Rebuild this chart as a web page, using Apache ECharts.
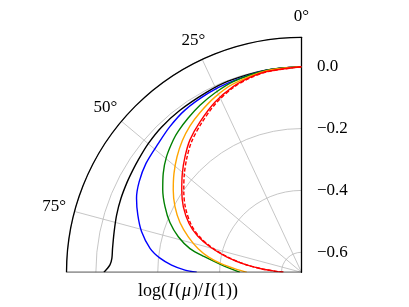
<!DOCTYPE html>
<html><head><meta charset="utf-8">
<script src="https://cdn.jsdelivr.net/npm/echarts@6/dist/echarts.min.js"></script>
<style>html,body{margin:0;padding:0;background:#fff}#c{width:409px;height:307px}</style>
</head><body><div id="c"></div>
<script>
// angle from disk centre (deg) and log(I(mu)/I(1))
const blackAngles = [0,10,21,28,37,44,50,55.5,58.7,62.5,67.7,72.8,77.8,82.8,85.8,87.8,90];
const blackR      = [0,-0.001,-0.003,-0.007,-0.010,-0.013,-0.018,-0.024,-0.027,-0.030,-0.034,-0.039,-0.045,-0.049,-0.050,-0.045,-0.026];
const blueAngles  = [0,10.3,21.1,27.5,35.7,42.1,48,55,60.9,65.8,70.7,75.7,81,84.3,86.8,88.9,90];
const blueR       = [0,-0.002,-0.008,-0.012,-0.019,-0.030,-0.042,-0.051,-0.064,-0.080,-0.104,-0.131,-0.169,-0.205,-0.244,-0.288,-0.326];
const greenAngles = [0,9.8,19.7,25.8,31.3,36.3,41.1,44.1,49.4,54.4,59.3,64.3,69.3,74,78,80.8,84.5,90];
const greenR      = [0,-0.002,-0.010,-0.021,-0.033,-0.046,-0.059,-0.069,-0.090,-0.115,-0.143,-0.175,-0.210,-0.251,-0.296,-0.345,-0.403,-0.466];
const orangeAngles= [0,9.8,19.9,26.3,32.5,37.3,42.2,47.2,52.2,57.3,62.6,67.7,72.7,77.1,80.8,84,86.9,90];
const orangeR     = [0,-0.0035,-0.017,-0.033,-0.053,-0.070,-0.091,-0.116,-0.143,-0.172,-0.204,-0.240,-0.282,-0.322,-0.362,-0.405,-0.448,-0.488];
const redAngles   = [0,9.8,14.8,20.2,26.8,34,40.1,45.2,50.3,55.5,61,66.6,70.7,74.7,78.4,82.1,85.2,87.8,90];
const redR        = [0,-0.006,-0.013,-0.025,-0.047,-0.078,-0.105,-0.134,-0.164,-0.195,-0.228,-0.269,-0.309,-0.361,-0.419,-0.480,-0.537,-0.582,-0.606];
const redDashR    = [0,-0.007,-0.015,-0.028,-0.052,-0.085,-0.113,-0.142,-0.172,-0.203,-0.236,-0.276,-0.315,-0.366,-0.423,-0.482,-0.538,-0.582,-0.606];
const angleTicks  = [0,25,50,75];
const radiusTicks = [-0.6,-0.4,-0.2,0.0];
const R_MIN = -0.6647, R_MAX = 0.095;
const ANG_MIN = 0, ANG_MAX = 90;
const LABEL_R = 0.163; // radius (data units) of the ring on which the angle labels sit

const pairs = (ang, r) => ang.map((a, i) => [r[i], a]);
const fmt = v => (v < -1e-9 ? '\u2212' : '') + Math.abs(v).toFixed(1);
const serif = '"Liberation Serif","DejaVu Serif",serif';
const labelText = {color: '#000', opacity: 1, fontFamily: serif, fontSize: 17};
const gridStyle = {color: '#b8b8b8', width: 0.8};

const chart = echarts.init(document.getElementById('c'), null, {renderer: 'canvas'});
function curve(name, ang, r, color, dashed, z) {
  return {name, type: 'line', coordinateSystem: 'polar', data: pairs(ang, r), showSymbol: false, smooth: 0.3,
    lineStyle: {color, width: 1.4, type: dashed ? [4, 2] : 'solid'}, z: z || 2, animation: false};
}
function labels(name, data, extra) {
  return {name, type: 'scatter', coordinateSystem: 'polar', clip: false, silent: true, data,
    symbolSize: 1, itemStyle: {color: 'rgba(0,0,0,0)', opacity: 1},
    label: Object.assign({show: true}, labelText, extra), z: 6, animation: false};
}
chart.setOption({
  animation: false,
  polar: {center: [301.5, 272.3], radius: 235},
  angleAxis: {
    type: 'value', min: ANG_MIN, max: ANG_MAX, interval: 25, startAngle: 90, endAngle: 180, clockwise: false,
    axisLine: {show: true, lineStyle: {color: '#000', width: 1.3}},
    axisTick: {show: false},
    axisLabel: {show: false},
    splitLine: {show: true, lineStyle: gridStyle}
  },
  radiusAxis: {
    type: 'value', min: R_MIN, max: R_MAX, splitNumber: 4,
    axisLine: {show: true, lineStyle: {color: '#000', width: 1.3}},
    axisTick: {show: false},
    axisLabel: {show: false},
    splitLine: {show: true, lineStyle: gridStyle}
  },
  title: {
    text: '{n|log(}{i|I}{n|(}{i|μ}{n|)/}{i|I}{n|(1))}',
    left: 183, top: 277, textAlign: 'center',
    textStyle: {fontWeight: 'normal', rich: {
      n: {fontFamily: serif, fontSize: 18, fontWeight: 'normal', color: '#000'},
      i: {fontFamily: serif, fontSize: 18, fontStyle: 'italic', fontWeight: 'normal', color: '#000', padding: [0, 1, 0, 1]}
    }}
  },
  series: [
    curve('black', blackAngles, blackR, '#000000'),
    curve('blue', blueAngles, blueR, '#0000ff'),
    curve('green', greenAngles, greenR, '#008000'),
    curve('orange', orangeAngles, orangeR, '#ffa500'),
    curve('red', redAngles, redR, '#ff0000'),
    curve('red dashed', redAngles, redDashR, '#ff0000', true, 3),
    {name: 'edge', type: 'line', coordinateSystem: 'polar', data: [[R_MIN, ANG_MAX], [R_MAX, ANG_MAX]],
      showSymbol: false, lineStyle: {color: '#000', width: 1.3}, z: 5, animation: false},
    labels('angle labels', angleTicks.map(a => [LABEL_R, a]), {position: 'inside', formatter: p => p.data[1] + '°'}),
    labels('radius labels', radiusTicks.map(t => [t, ANG_MIN]), {position: 'right', distance: 15, formatter: p => fmt(p.data[0])})
  ]
});
</script></body></html>
